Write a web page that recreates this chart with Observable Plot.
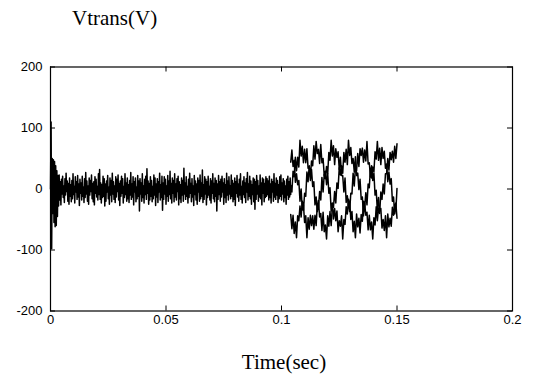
<!DOCTYPE html>
<html><head><meta charset="utf-8">
<script src="https://cdn.jsdelivr.net/npm/d3@7"></script>
<script src="https://cdn.jsdelivr.net/npm/@observablehq/plot@0.6"></script>
<style>
body{margin:0;background:#fff;}
#wrap{position:relative;width:534px;height:381px;overflow:hidden;}
.t{position:absolute;font-family:"Liberation Serif","Times New Roman",serif;font-size:21px;line-height:1;white-space:nowrap;color:#000;}
</style></head><body>
<div id="wrap"></div>
<script>
// ---- data ----
const titleText = "Vtrans(V)";
const xLabelText = "Time(sec)";
const xTicks = [0, 0.05, 0.1, 0.15, 0.2];
const xTickLabels = ["0", "0.05", "0.1", "0.15", "0.2"];
const yTicks = [-200, -100, 0, 100, 200];
const yTickLabels = ["-200", "-100", "0", "100", "200"];

// first segment: start-up transient and noise, sampled every 0.25 ms from t = 0
const dtNoise = 0.00025;
const vNoise = [
 0,110,-98,50,-40,48,-55,45,-62,38,-60,30,-45,22,-28,
 23,-18,12,-26,16,-8,21,-14,5,-22,17,-10,26,-4,13,-20,9,-25,18,-12,
 7,-21,14,-16,25,-9,4,-23,20,-5,12,-17,22,-13,8,-27,16,-7,10,-18,
 21,-12,3,-22,17,-14,27,-8,13,-20,5,-25,18,-10,14,-4,23,-16,9,-21,
 12,-26,20,-7,16,-13,4,-18,25,-9,32,-17,10,-23,7,-14,21,-12,17,-28,
 8,-20,13,-5,22,-16,3,-25,18,-10,14,-21,26,-8,12,-17,5,-22,20,-13,
 16,-4,23,-18,9,-27,13,-12,21,-7,17,-23,4,-14,25,-9,10,-20,18,-16,
 7,-22,14,-10,27,-17,8,-13,20,-26,12,-5,18,-21,3,-16,22,-12,13,-36,
 17,-8,10,-20,25,-14,5,-23,16,-9,21,-17,33,-7,13,-25,9,-18,20,-12,
 14,-21,4,-16,23,-10,18,-27,8,-13,17,-22,12,-5,26,-18,7,-14,21,-35,
 10,-17,20,-8,16,-25,5,-12,22,-20,13,-9,29,-16,9,-23,18,-7,14,-21,
 25,-13,8,-18,17,-4,21,-26,12,-16,7,-22,18,-10,14,-20,34,-8,10,-17,
 20,-12,4,-23,16,-14,26,-7,9,-21,17,-13,5,-27,22,-9,13,-18,8,-25,
 18,-5,14,-20,23,-16,10,-12,31,-22,7,-17,20,-8,16,-26,12,-14,21,-10,
 4,-18,17,-23,13,-7,25,-16,9,-21,18,-12,14,-36,8,-17,22,-9,12,-20,
 16,-13,21,-5,10,-25,17,-14,7,-22,26,-10,13,-18,20,-8,5,-16,23,-12,
 14,-21,9,-17,18,-27,12,-7,22,-13,8,-20,16,-10,25,-17,4,-23,13,-9,
 20,-14,10,-22,17,-5,27,-18,8,-12,21,-16,13,-25,7,-9,18,-21,16,-33,
 12,-17,22,-8,14,-20,5,-13,23,-16,10,-26,18,-7,16,-21,9,-14,20,-12,
 17,-9,13,-18,21,-14,8,-23,16,-5,12,-20,25,-13,9,-17,18,-10,14,-22,
 7,-16,20,-12,23,-18,10,-8,17,-21,13,-14,5,-25,16,-10,21,-17,12,-13,
 18,-9
];

// second segment: three phases, sampled every 0.5 ms from t = 0.104 s
const tPhase0 = 0.104;
const dtPhase = 0.0005;
const vPhaseA = [
 6,-5,29,20,52,30,52,36,80,54,70,43,65,43,66,34,37,14,32,4,
 12,-26,-13,-37,-19,-46,-40,-68,-38,-70,-59,-82,-44,-61,-37,-60,-29,-30,-4,-23,
 10,1,35,23,38,26,60,44,65,40,80,55,68,42,50,28,53,22,26,-1,
 16,-17,-13,-44,-23,-43,-38,-67,-43,-67,-54,-82,-47,-59,-29,-52,-31,-40,-5,-17,
 8,-8,25,25,50,31,60,48,62,44,70,50,74
];
const vPhaseB = [
 44,64,37,47,11,25,7,14,-20,0,-34,-26,-55,-44,-80,-47,-66,-43,-60,-44,
 -66,-43,-60,-25,-31,-4,-18,19,-5,24,17,37,25,60,47,80,54,71,40,66,
 52,61,32,52,22,22,-5,18,-22,-11,-29,-20,-50,-37,-70,-53,-80,-41,-62,-48,
 -72,-42,-53,-20,-30,-6,-26,8,2,34,18,36,28,61,49,78,47,67,40,68,
 50,62,34,41,12,28,8,17,-20,-13,-41,-23,-48
];
const vPhaseC = [
 -42,-65,-43,-73,-54,-80,-44,-52,-28,-46,-20,-35,-7,-12,28,12,38,20,46,38,
 71,49,78,58,65,42,73,43,50,22,29,7,25,-7,2,-36,-23,-49,-32,-52,
 -36,-70,-52,-61,-44,-82,-50,-58,-29,-41,-17,-37,-7,-8,26,5,34,30,58,37,
 66,55,67,44,64,46,78,41,43,20,38,14,26,-10,-2,-36,-14,-36,-32,-64,
 -50,-68,-44,-80,-41,-62,-48,-61,-30,-43,-25,-35,1
];

// ---- build table ----
const rows = [];
vNoise.forEach((v, i) => rows.push({t: i * dtNoise, v, s: "n"}));
[["a", vPhaseA], ["b", vPhaseB], ["c", vPhaseC]].forEach(([s, arr]) =>
  arr.forEach((v, i) => rows.push({t: tPhase0 + i * dtPhase, v, s})));

const W = 534, H = 381, mL = 50, mR = 22, mT = 66.5, mB = 70.5;
const innerW = W - mL - mR, innerH = H - mT - mB;
const tick = 5;

const chart = Plot.plot({
  width: W, height: H,
  marginLeft: mL, marginRight: mR, marginTop: mT, marginBottom: mB,
  x: {domain: [0, 0.2], label: null},
  y: {domain: [-200, 200], label: null},
  style: {fontFamily: "'Liberation Sans', Arial, sans-serif", fontSize: "13px", color: "#000", background: "#fff", overflow: "visible"},
  marks: [
    Plot.line(rows, {x: "t", y: "v", z: "s", stroke: "#000", strokeWidth: 1.5}),
    Plot.frame({stroke: "#000", strokeWidth: 1.2}),
    Plot.tickX(xTicks, {x: d => d, insetTop: innerH - tick, stroke: "#000"}),
    Plot.tickX(xTicks, {x: d => d, insetBottom: innerH - tick, stroke: "#000"}),
    Plot.tickY(yTicks, {y: d => d, insetRight: innerW - tick, stroke: "#000"}),
    Plot.tickY(yTicks, {y: d => d, insetLeft: innerW - tick, stroke: "#000"}),
    Plot.axisX(xTicks, {anchor: "bottom", tickSize: 0, tickPadding: 4, label: null,
      tickFormat: d => xTickLabels[xTicks.indexOf(d)], fill: "#000"}),
    Plot.axisY(yTicks, {anchor: "left", tickSize: 0, tickPadding: 8, label: null,
      tickFormat: d => yTickLabels[yTicks.indexOf(d)], fill: "#000"})
  ]
});

const wrap = document.getElementById("wrap");
wrap.appendChild(chart);
const title = document.createElement("div");
title.className = "t"; title.textContent = titleText;
title.style.left = "72px"; title.style.top = "8px";
wrap.appendChild(title);
const xl = document.createElement("div");
xl.className = "t"; xl.textContent = xLabelText;
xl.style.left = "284px"; xl.style.top = "352px"; xl.style.transform = "translateX(-50%)";
wrap.appendChild(xl);
chart.style.position = "absolute"; chart.style.left = "0"; chart.style.top = "0";
</script>
</body></html>
